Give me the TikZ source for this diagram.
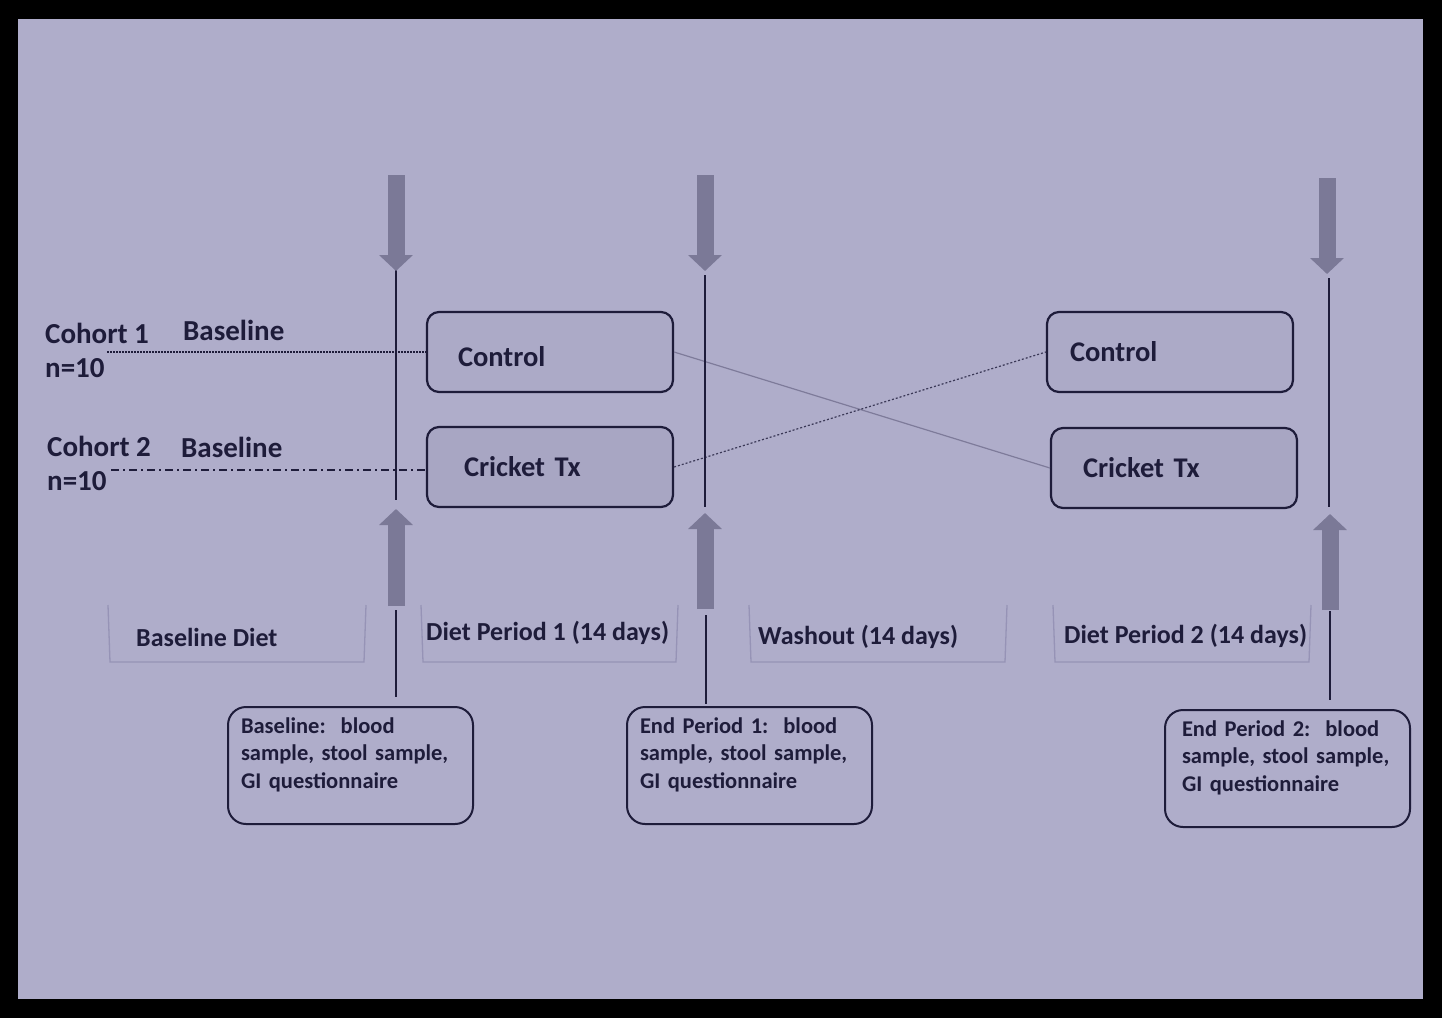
\documentclass[tikz,border=0pt]{standalone}
\usepackage{fontspec}
\setmainfont{Carlito}
\usetikzlibrary{arrows.meta}
\definecolor{bg}{HTML}{AFADCA}
\definecolor{ink}{HTML}{1E1C3A}
\definecolor{arr}{HTML}{7B7997}
\definecolor{brk}{HTML}{9693B6}
\definecolor{boxfill}{HTML}{ACAAC7}
\definecolor{boxfillb}{HTML}{A8A6C3}
\definecolor{xline}{HTML}{7E7B9A}
\begin{document}
\begin{tikzpicture}[x=1pt,y=-1pt,
  txt/.style={text=ink,font=\bfseries\fontsize{29}{33}\selectfont,inner sep=0pt},
  ptxt/.style={text=ink,font=\bfseries\fontsize{26}{30}\selectfont,inner sep=0pt},
  armbox/.style={draw=ink,line width=2.2pt,rounded corners=12pt,fill=boxfill,minimum width=246pt,minimum height=80pt,text=ink,font=\bfseries\fontsize{28.5}{32}\selectfont,align=left,inner ysep=0pt},
  infobox/.style={draw=ink,line width=2pt,rounded corners=18pt,minimum width=245pt,minimum height=117pt,text=ink,font=\bfseries\fontsize{22.5}{27.5}\selectfont,align=left,inner ysep=4pt,inner xsep=13pt,text width=219pt},
  bigarrow/.style={draw=arr,line width=17pt,-{Triangle[width=33pt,length=16pt]}},
  vline/.style={draw=ink,line width=2.6pt},
  bracket/.style={draw=brk,line width=1.3pt},
]
\useasboundingbox (0,0) rectangle (1442,1018);
\fill[black] (0,0) rectangle (1442,1018);
\fill[bg] (18,19) rectangle (1423,999);

% diet arm boxes
\node[armbox,inner xsep=31pt,text width=184pt] (c1) at (550,352) {\strut\\[-26pt]Control};
\node[armbox,fill=boxfillb,inner xsep=37pt,text width=172pt] (t1) at (550,467) {Cricket Tx};
\node[armbox,inner xsep=23pt,text width=200pt] (c2) at (1170,352) {Control};
\node[armbox,fill=boxfillb,inner xsep=32pt,text width=182pt] (t2) at (1174,468) {Cricket Tx};

% cohort labels
\node[txt,anchor=west] (coh1) at (45,333) {Cohort 1};
\node[txt,anchor=west] (n1) at (45,368) {n=10};
\node[txt,anchor=west] (b1) at (183,330) {Baseline};
\node[txt,anchor=west] (coh2) at (47,446) {Cohort 2};
\node[txt,anchor=west] (n2) at (47,481) {n=10};
\node[txt,anchor=west] (b2) at (181,447) {Baseline};

\coordinate (l1s) at (107,352);
\coordinate (l2s) at (111,470);
\draw[ink,line width=1.3pt,dash pattern=on 1.5pt off 1.5pt] (l1s) -- (c1.west |- l1s);
\draw[ink,line width=1.3pt,dash pattern=on 8pt off 4pt on 2pt off 4pt] (l2s) -- (t1.west |- l2s);

% crossover
\draw[xline,line width=1.2pt] (c1.east) -- (t2.west);
\draw[ink!80!bg,line width=1.2pt,dash pattern=on 2pt off 2pt] (t1.east) -- (c2.west);

% vertical time lines
\coordinate (v1a) at (396,270); \coordinate (v1b) at (396,500);
\coordinate (v2a) at (705,275); \coordinate (v2b) at (705,507);
\coordinate (v3a) at (1329,278); \coordinate (v3b) at (1329,507);
\draw[vline] (v1a) -- (v1b);
\draw[vline] (v2a) -- (v2b);
\draw[vline] (v3a) -- (v3b);

% block arrows
\coordinate (d1s) at (396,175); \coordinate (d1e) at (396,271);
\coordinate (d2s) at (705,175); \coordinate (d2e) at (705,271);
\coordinate (d3s) at (1327,178); \coordinate (d3e) at (1327,274);
\draw[bigarrow] (d1s) -- (d1e);
\draw[bigarrow] (d2s) -- (d2e);
\draw[bigarrow] (d3s) -- (d3e);
\coordinate (u1s) at (396,606); \coordinate (u1e) at (396,509);
\coordinate (u2s) at (705,609); \coordinate (u2e) at (705,513);
\coordinate (u3s) at (1330,610); \coordinate (u3e) at (1330,514);
\draw[bigarrow] (u1s) -- (u1e);
\draw[bigarrow] (u2s) -- (u2e);
\draw[bigarrow] (u3s) -- (u3e);

% period brackets
\draw[bracket] (108,605) -- (110,662) -- (364,662) -- (366,605);
\draw[bracket] (421,605) -- (423,662) -- (676,662) -- (678,605);
\draw[bracket] (749,605) -- (751,662) -- (1005,662) -- (1007,605);
\draw[bracket] (1053,605) -- (1055,662) -- (1309,662) -- (1311,605);
\node[ptxt,anchor=west] (pd0) at (136,637) {Baseline Diet};
\node[ptxt,anchor=west] (pd1) at (426,633) {Diet Period 1 (14 days)};
\node[ptxt,anchor=west] (pd2) at (758,637) {Washout (14 days)};
\node[ptxt,anchor=west] (pd3) at (1064,636) {Diet Period 2 (14 days)};

% measurement boxes
\node[infobox,anchor=north west] (m1) at (227,706) {Baseline:\ \ blood\\sample, stool sample,\\GI questionnaire\strut\\[-10pt]\strut};
\node[infobox,anchor=north west] (m2) at (626,706) {End Period 1:\ \ blood\\sample, stool sample,\\GI questionnaire\strut\\[-10pt]\strut};
\node[infobox,anchor=north west,inner xsep=17pt,text width=211pt] (m3) at (1164,709) {End Period 2:\ \ blood\\sample, stool sample,\\GI questionnaire\strut\\[-10pt]\strut};

\coordinate (w1) at (396,610); \coordinate (w2) at (706,615); \coordinate (w3) at (1330,611);
\draw[vline] (w1) -- ([yshift=9pt]w1 |- m1.north);
\draw[vline] (w2) -- ([yshift=2pt]w2 |- m2.north);
\draw[vline] (w3) -- ([yshift=9pt]w3 |- m3.north);
\end{tikzpicture}
\end{document}
